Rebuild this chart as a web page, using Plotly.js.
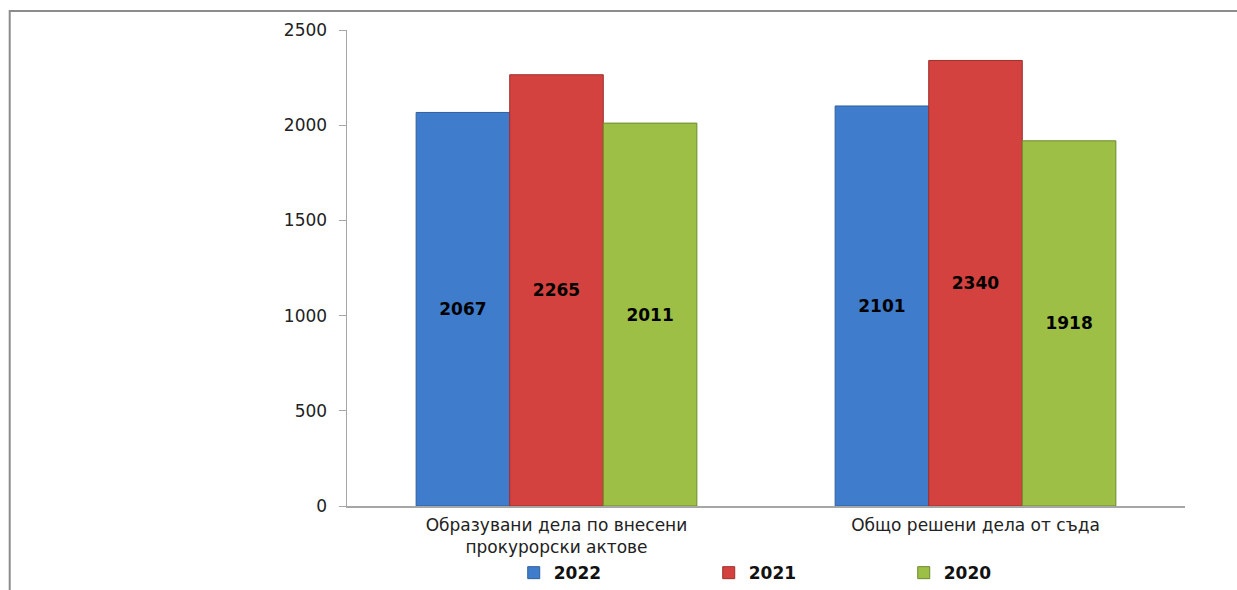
<!DOCTYPE html>
<html><head><meta charset="utf-8">
<script src="https://cdn.plot.ly/plotly-3.0.1.min.js"></script>
<style>html,body{margin:0;padding:0;background:#fff}#c{width:1237px;height:590px}</style>
</head><body><div id="c"></div>
<script>
const categories = ["Образувани дела по внесени<br>прокурорски актове", "Общо решени дела от съда"];
const seriesNames = ["2022", "2021", "2020"];
const values2022 = [2067, 2101];
const values2021 = [2265, 2340];
const values2020 = [2011, 1918];
const colors = ["#3F7DCC", "#D3423F", "#9DBF45"];
const lineColors = ["#2F5F9E", "#9E2F2C", "#6E8A2E"];
const allValues = [values2022, values2021, values2020];

const traces = allValues.map((v, i) => ({
  type: "bar",
  name: seriesNames[i],
  x: categories,
  y: v,
  text: v.map(String),
  textposition: "inside",
  insidetextanchor: "middle",
  textangle: 0,
  textfont: {family: "DejaVu Sans", size: 17, color: "#000", weight: "bold"},
  marker: {color: colors[i], line: {color: lineColors[i], width: 1}},
  hoverinfo: "none"
}));

const layout = {
  width: 1237, height: 590,
  margin: {l: 347, r: 52, t: 30, b: 84, autoexpand: false},
  paper_bgcolor: "#fff", plot_bgcolor: "#fff",
  barmode: "group",
  bargap: 0.33, bargroupgap: 0,
  font: {family: "DejaVu Sans", color: "#222"},
  xaxis: {
    showline: true, linecolor: "#A6A6A6", linewidth: 1.5, automargin: false,
    ticks: "", tickfont: {size: 17, color: "#222"}, showgrid: false,
    ticklabelstandoff: 3
  },
  yaxis: {
    range: [0, 2500], tickvals: [0, 500, 1000, 1500, 2000, 2500],
    showline: true, linecolor: "#A6A6A6", linewidth: 1.5, automargin: false,
    ticks: "outside", ticklen: 7, tickcolor: "#A6A6A6",
    tickfont: {size: 17, color: "#222"}, showgrid: false, zeroline: false,
    ticklabelstandoff: 8
  },
  showlegend: true,
  legend: {
    orientation: "h", x: 0.548, xanchor: "center", y: -0.141, yanchor: "middle",
    font: {size: 17, color: "#111", weight: "bold"}, bgcolor: "rgba(0,0,0,0)",
    entrywidth: 150, itemwidth: 30, traceorder: "normal"
  },
  shapes: [{
    type: "rect", xref: "paper", yref: "paper",
    x0: -0.4025, x1: 1.2, y0: -0.3, y1: 1.04,
    line: {color: "#8C8C8C", width: 2}, fillcolor: "rgba(0,0,0,0)", layer: "below"
  }]
};

Plotly.newPlot("c", traces, layout, {staticPlot: true});
</script></body></html>
